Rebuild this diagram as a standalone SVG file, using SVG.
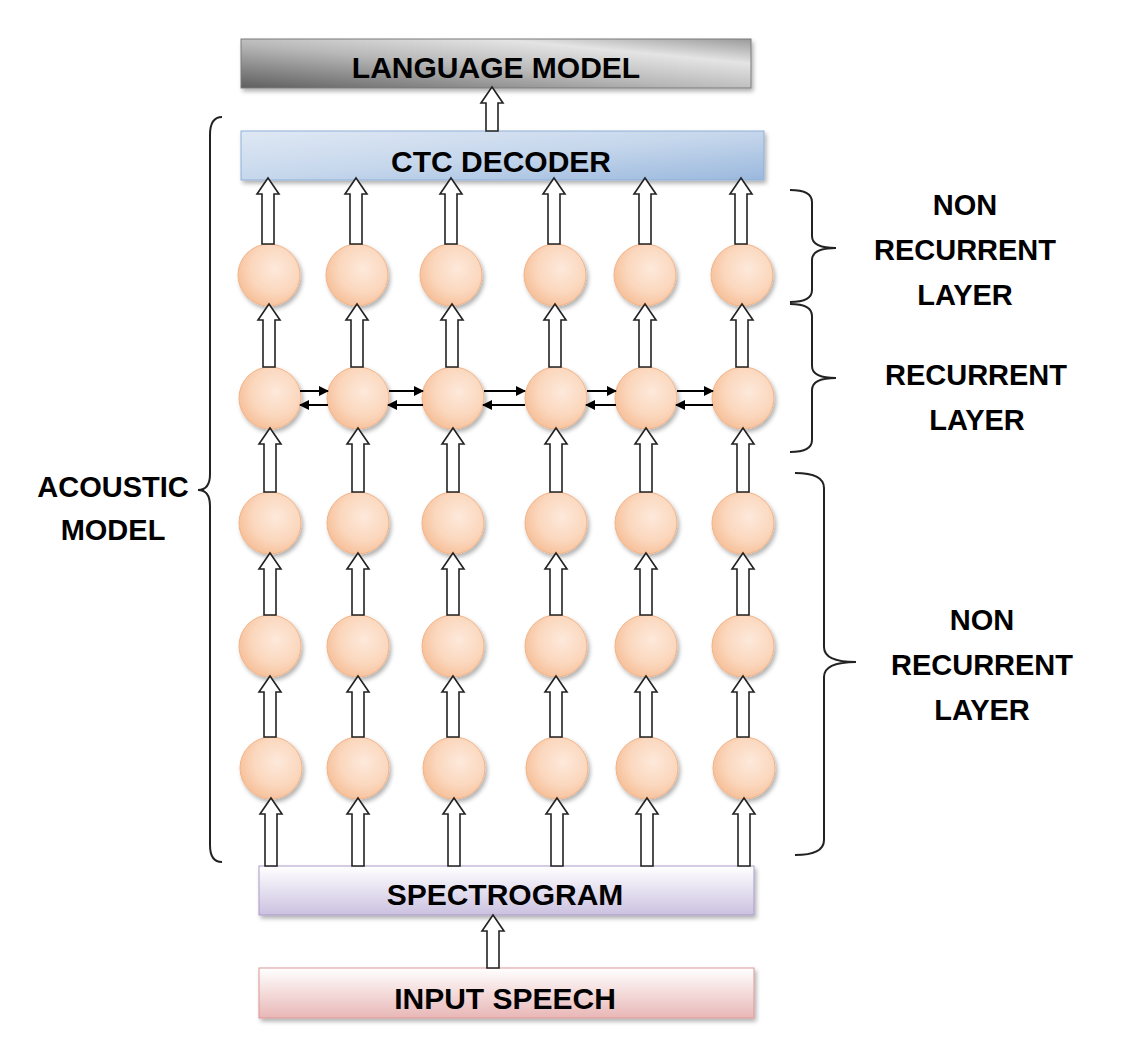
<svg xmlns="http://www.w3.org/2000/svg" width="1144" height="1047" viewBox="0 0 1144 1047">
<defs>
<style>
text{font-family:"Liberation Sans",Arial,sans-serif;font-weight:bold;fill:#000;text-anchor:middle}
.box{font-size:30px}
.lbl{font-size:29px}
.blk{fill:#fff;stroke:#222;stroke-width:1.6;stroke-linejoin:miter}
.nd{fill:url(#gNode);stroke:#f2b387;stroke-width:1;filter:url(#sh)}
.rec{stroke:#000;stroke-width:2;fill:none}
.br{fill:none;stroke:#222;stroke-width:2}
</style>
<filter id="sh" x="-20%" y="-20%" width="150%" height="150%">
<feDropShadow dx="2" dy="3" stdDeviation="2" flood-color="#000" flood-opacity="0.3"/>
</filter>
<radialGradient id="gNode" cx="0.6" cy="0.4" r="0.65">
<stop offset="0" stop-color="#fde9db"/>
<stop offset="0.6" stop-color="#fbd7bd"/>
<stop offset="1" stop-color="#f6bf98"/>
</radialGradient>
<linearGradient id="gLM" x1="0" y1="1" x2="1" y2="0">
<stop offset="0" stop-color="#5e5e5e"/>
<stop offset="0.45" stop-color="#b8b8b8"/>
<stop offset="0.75" stop-color="#e4e4e4"/>
<stop offset="1" stop-color="#9a9a9a"/>
</linearGradient>
<linearGradient id="gCTC" x1="0" y1="0" x2="1" y2="1">
<stop offset="0" stop-color="#dfe8f4"/>
<stop offset="0.5" stop-color="#c6d7ec"/>
<stop offset="1" stop-color="#9ab8dd"/>
</linearGradient>
<linearGradient id="gSP" x1="0" y1="0" x2="0" y2="1">
<stop offset="0" stop-color="#ffffff"/>
<stop offset="1" stop-color="#cbc1e0"/>
</linearGradient>
<linearGradient id="gIN" x1="0" y1="0" x2="0" y2="1">
<stop offset="0" stop-color="#ffffff"/>
<stop offset="1" stop-color="#e8b7b6"/>
</linearGradient>
<marker id="ah" viewBox="0 0 10 10" refX="9" refY="5" markerWidth="10" markerHeight="10" markerUnits="userSpaceOnUse" orient="auto">
<path d="M0,0 L10,5 L0,10 z" fill="#000"/>
</marker>
</defs>
<rect width="1144" height="1047" fill="#fff"/>

<g id="language-model">
<rect x="241" y="39" width="510" height="49" fill="url(#gLM)" stroke="#7a7a7a" stroke-width="1" filter="url(#sh)"/>
<text class="box" x="496" y="78">LANGUAGE MODEL</text>
</g>
<g id="ctc-decoder">
<rect x="241" y="131" width="523" height="49" fill="url(#gCTC)" stroke="#8fb0d8" stroke-width="1" filter="url(#sh)"/>
<text class="box" x="501" y="172">CTC DECODER</text>
</g>
<g id="spectrogram">
<rect x="259" y="866" width="495" height="49" fill="url(#gSP)" stroke="#a99bc9" stroke-width="1" filter="url(#sh)"/>
<text class="box" x="505" y="905">SPECTROGRAM</text>
</g>
<g id="input-speech">
<rect x="259" y="968" width="495" height="50" fill="url(#gIN)" stroke="#d99896" stroke-width="1" filter="url(#sh)"/>
<text class="box" x="505" y="1009">INPUT SPEECH</text>
</g>

<g id="nodes">
<g id="row1">
<circle class="nd" cx="269" cy="275" r="31"/><circle class="nd" cx="357" cy="275" r="31"/><circle class="nd" cx="451" cy="275" r="31"/><circle class="nd" cx="555" cy="275" r="31"/><circle class="nd" cx="645" cy="275" r="31"/><circle class="nd" cx="742" cy="275" r="31"/>
</g>
<g id="row2">
<circle class="nd" cx="270" cy="398" r="31"/><circle class="nd" cx="358" cy="398" r="31"/><circle class="nd" cx="453" cy="398" r="31"/><circle class="nd" cx="556" cy="398" r="31"/><circle class="nd" cx="646" cy="398" r="31"/><circle class="nd" cx="743" cy="398" r="31"/>
</g>
<g id="row3">
<circle class="nd" cx="270" cy="523" r="31"/><circle class="nd" cx="358" cy="523" r="31"/><circle class="nd" cx="453" cy="523" r="31"/><circle class="nd" cx="556" cy="523" r="31"/><circle class="nd" cx="646" cy="523" r="31"/><circle class="nd" cx="743" cy="523" r="31"/>
</g>
<g id="row4">
<circle class="nd" cx="270" cy="646" r="31"/><circle class="nd" cx="358" cy="646" r="31"/><circle class="nd" cx="453" cy="646" r="31"/><circle class="nd" cx="556" cy="646" r="31"/><circle class="nd" cx="646" cy="646" r="31"/><circle class="nd" cx="743" cy="646" r="31"/>
</g>
<g id="row5">
<circle class="nd" cx="271" cy="768" r="31"/><circle class="nd" cx="358" cy="768" r="31"/><circle class="nd" cx="454" cy="768" r="31"/><circle class="nd" cx="557" cy="768" r="31"/><circle class="nd" cx="647" cy="768" r="31"/><circle class="nd" cx="744" cy="768" r="31"/>
</g>
</g>

<g id="connectors">
<path class="blk" d="M492,87 l11,16 h-5 V131 h-12 V103 h-5 z"/>
<path class="blk" d="M493,915 l11,16 h-5 V968 h-12 V931 h-5 z"/>
<g id="to-ctc">
<path class="blk" d="M268,178 l11,16 h-5 V244 h-12 V194 h-5 z"/>
<path class="blk" d="M356,178 l11,16 h-5 V244 h-12 V194 h-5 z"/>
<path class="blk" d="M451,178 l11,16 h-5 V244 h-12 V194 h-5 z"/>
<path class="blk" d="M554,178 l11,16 h-5 V244 h-12 V194 h-5 z"/>
<path class="blk" d="M645,178 l11,16 h-5 V244 h-12 V194 h-5 z"/>
<path class="blk" d="M741,178 l11,16 h-5 V244 h-12 V194 h-5 z"/>
</g>
<g id="r2-r1">
<path class="blk" d="M269,304 l11,16 h-5 V367 h-12 V320 h-5 z"/>
<path class="blk" d="M357,304 l11,16 h-5 V367 h-12 V320 h-5 z"/>
<path class="blk" d="M452,304 l11,16 h-5 V367 h-12 V320 h-5 z"/>
<path class="blk" d="M555,304 l11,16 h-5 V367 h-12 V320 h-5 z"/>
<path class="blk" d="M645,304 l11,16 h-5 V367 h-12 V320 h-5 z"/>
<path class="blk" d="M742,304 l11,16 h-5 V367 h-12 V320 h-5 z"/>
</g>
<g id="r3-r2">
<path class="blk" d="M270,428 l11,16 h-5 V492 h-12 V444 h-5 z"/>
<path class="blk" d="M358,428 l11,16 h-5 V492 h-12 V444 h-5 z"/>
<path class="blk" d="M453,428 l11,16 h-5 V492 h-12 V444 h-5 z"/>
<path class="blk" d="M556,428 l11,16 h-5 V492 h-12 V444 h-5 z"/>
<path class="blk" d="M646,428 l11,16 h-5 V492 h-12 V444 h-5 z"/>
<path class="blk" d="M743,428 l11,16 h-5 V492 h-12 V444 h-5 z"/>
</g>
<g id="r4-r3">
<path class="blk" d="M270,553 l11,16 h-5 V615 h-12 V569 h-5 z"/>
<path class="blk" d="M358,553 l11,16 h-5 V615 h-12 V569 h-5 z"/>
<path class="blk" d="M453,553 l11,16 h-5 V615 h-12 V569 h-5 z"/>
<path class="blk" d="M556,553 l11,16 h-5 V615 h-12 V569 h-5 z"/>
<path class="blk" d="M646,553 l11,16 h-5 V615 h-12 V569 h-5 z"/>
<path class="blk" d="M743,553 l11,16 h-5 V615 h-12 V569 h-5 z"/>
</g>
<g id="r5-r4">
<path class="blk" d="M270,676 l11,16 h-5 V737 h-12 V692 h-5 z"/>
<path class="blk" d="M358,676 l11,16 h-5 V737 h-12 V692 h-5 z"/>
<path class="blk" d="M453,676 l11,16 h-5 V737 h-12 V692 h-5 z"/>
<path class="blk" d="M556,676 l11,16 h-5 V737 h-12 V692 h-5 z"/>
<path class="blk" d="M646,676 l11,16 h-5 V737 h-12 V692 h-5 z"/>
<path class="blk" d="M743,676 l11,16 h-5 V737 h-12 V692 h-5 z"/>
</g>
<g id="sp-r5">
<path class="blk" d="M271,798 l11,16 h-5 V866 h-12 V814 h-5 z"/>
<path class="blk" d="M358,798 l11,16 h-5 V866 h-12 V814 h-5 z"/>
<path class="blk" d="M454,798 l11,16 h-5 V866 h-12 V814 h-5 z"/>
<path class="blk" d="M557,798 l11,16 h-5 V866 h-12 V814 h-5 z"/>
<path class="blk" d="M647,798 l11,16 h-5 V866 h-12 V814 h-5 z"/>
<path class="blk" d="M744,798 l11,16 h-5 V866 h-12 V814 h-5 z"/>
</g>
<g id="recurrent">
<line class="rec" x1="300" y1="391" x2="328" y2="391" marker-end="url(#ah)"/>
<line class="rec" x1="328" y1="405" x2="300" y2="405" marker-end="url(#ah)"/>
<line class="rec" x1="389" y1="391" x2="423" y2="391" marker-end="url(#ah)"/>
<line class="rec" x1="423" y1="405" x2="388" y2="405" marker-end="url(#ah)"/>
<line class="rec" x1="484" y1="391" x2="525" y2="391" marker-end="url(#ah)"/>
<line class="rec" x1="525" y1="405" x2="483" y2="405" marker-end="url(#ah)"/>
<line class="rec" x1="587" y1="391" x2="616" y2="391" marker-end="url(#ah)"/>
<line class="rec" x1="616" y1="405" x2="586" y2="405" marker-end="url(#ah)"/>
<line class="rec" x1="677" y1="391" x2="713" y2="391" marker-end="url(#ah)"/>
<line class="rec" x1="713" y1="405" x2="676" y2="405" marker-end="url(#ah)"/>
</g>
</g>

<g id="braces">
<path class="br" d="M790,190 Q812,190 812,202 L812,236 Q812,248 836,248 Q812,248 812,260 L812,290 Q812,302 790,302"/>
<path class="br" d="M790,304 Q812,304 812,316 L812,366 Q812,378 836,378 Q812,378 812,390 L812,440 Q812,452 790,452"/>
<path class="br" d="M795,473 Q824,473 824,488 L824,647 Q824,662 856,662 Q824,662 824,677 L824,840 Q824,855 795,855"/>
<path class="br" d="M222,117 Q210,117 210,135 L210,474 Q210,490 198,490 Q210,490 210,506 L210,845 Q210,862 222,862"/>
</g>

<g id="labels">
<text class="lbl" x="965" y="215">NON</text>
<text class="lbl" x="965" y="260">RECURRENT</text>
<text class="lbl" x="965" y="305">LAYER</text>
<text class="lbl" x="976" y="385">RECURRENT</text>
<text class="lbl" x="977" y="430">LAYER</text>
<text class="lbl" x="982" y="630">NON</text>
<text class="lbl" x="982" y="675">RECURRENT</text>
<text class="lbl" x="982" y="720">LAYER</text>
<text class="lbl" x="113" y="497">ACOUSTIC</text>
<text class="lbl" x="113" y="540">MODEL</text>
</g>
</svg>
